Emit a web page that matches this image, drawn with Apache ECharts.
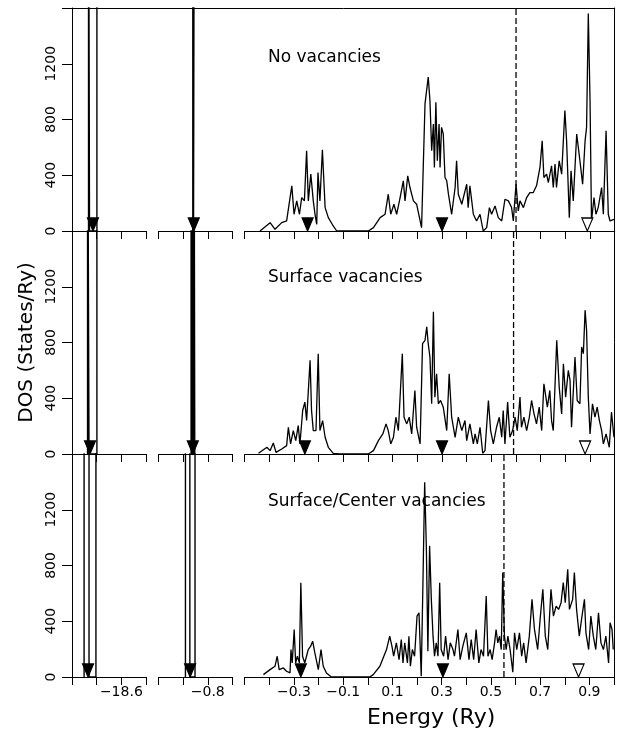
<!DOCTYPE html>
<html lang="en">
<head>
    <meta charset="UTF-8">
    <title>DOS</title>
    <script src="https://cdn.jsdelivr.net/npm/echarts@6/dist/echarts.min.js"></script>
    <style>
        html, body { margin: 0; padding: 0; background: #fff; }
        #main { width: 617px; height: 734px; }
    </style>
</head>
<body>
<div id="main"></div>
<script type="text/javascript">
    // energy (Ry), DOS (States/Ry)
    var dosNoVac = [
        [-0.438, 0], [-0.397, 60], [-0.377, 12], [-0.35, 60], [-0.33, 72], [-0.309, 324], [-0.3, 120],
        [-0.289, 216], [-0.278, 120], [-0.269, 240], [-0.258, 216], [-0.249, 576], [-0.242, 216],
        [-0.232, 408], [-0.222, 216], [-0.215, 120], [-0.208, 48], [-0.203, 420], [-0.195, 216],
        [-0.185, 583], [-0.174, 168], [-0.161, 96], [-0.141, 36], [-0.127, 0], [0.001, 0], [0.022, 24],
        [0.049, 96], [0.069, 120], [0.082, 264], [0.092, 120], [0.105, 192], [0.116, 120], [0.13, 240],
        [0.143, 360], [0.15, 216], [0.161, 396], [0.17, 312], [0.184, 216], [0.197, 192], [0.217, 24],
        [0.231, 912], [0.244, 1104], [0.251, 936], [0.258, 576], [0.265, 768], [0.269, 456], [0.275, 924],
        [0.281, 504], [0.288, 768], [0.292, 456], [0.298, 744], [0.305, 696], [0.312, 384], [0.319, 360],
        [0.326, 264], [0.339, 120], [0.353, 312], [0.359, 504], [0.366, 264], [0.38, 192], [0.4, 336],
        [0.406, 168], [0.413, 324], [0.427, 120], [0.44, 72], [0.454, 120], [0.467, 0], [0.481, 24],
        [0.492, 168], [0.501, 120], [0.515, 180], [0.528, 96], [0.542, 72], [0.555, 228], [0.569, 216],
        [0.582, 168], [0.589, 72], [0.6, 336], [0.609, 144], [0.616, 216], [0.63, 168], [0.643, 240],
        [0.656, 276], [0.67, 276], [0.683, 324], [0.697, 456], [0.706, 648], [0.713, 384], [0.724, 408],
        [0.731, 348], [0.744, 468], [0.751, 312], [0.758, 480], [0.764, 312], [0.775, 504], [0.785, 408],
        [0.798, 864], [0.805, 648], [0.816, 96], [0.823, 432], [0.832, 216], [0.846, 696], [0.852, 696],
        [0.859, 504], [0.87, 336], [0.88, 648], [0.886, 744], [0.893, 1560], [0.9, 936], [0.906, 72],
        [0.916, 240], [0.924, 120], [0.933, 168], [0.947, 312], [0.954, 120], [0.965, 720], [0.974, 120],
        [0.981, 72], [0.997, 84]
    ];
    var dosSurfVac = [
        [-0.444, 5], [-0.41, 48], [-0.397, 24], [-0.384, 79], [-0.373, 12], [-0.35, 36], [-0.33, 60],
        [-0.323, 192], [-0.314, 72], [-0.303, 168], [-0.293, 96], [-0.283, 204], [-0.276, 72],
        [-0.265, 312], [-0.256, 372], [-0.249, 240], [-0.235, 672], [-0.229, 312], [-0.222, 168],
        [-0.211, 168], [-0.202, 720], [-0.195, 168], [-0.184, 240], [-0.174, 120], [-0.161, 48],
        [-0.141, 5], [-0.114, 0], [0.001, 0], [0.022, 24], [0.042, 96], [0.06, 144], [0.073, 216],
        [0.082, 168], [0.092, 72], [0.103, 120], [0.113, 264], [0.123, 168], [0.139, 720], [0.146, 264],
        [0.157, 216], [0.167, 264], [0.177, 144], [0.19, 456], [0.197, 192], [0.211, 72], [0.221, 792],
        [0.231, 816], [0.238, 912], [0.244, 792], [0.251, 696], [0.258, 360], [0.265, 1020], [0.271, 408],
        [0.278, 576], [0.285, 360], [0.294, 384], [0.305, 336], [0.319, 168], [0.329, 576], [0.339, 264],
        [0.353, 120], [0.366, 264], [0.38, 168], [0.393, 240], [0.4, 96], [0.413, 216], [0.427, 72],
        [0.434, 144], [0.443, 72], [0.454, 192], [0.465, 5], [0.474, 24], [0.488, 384], [0.497, 168],
        [0.508, 72], [0.521, 192], [0.532, 264], [0.542, 120], [0.548, 312], [0.555, 72], [0.566, 372],
        [0.575, 120], [0.586, 168], [0.596, 264], [0.605, 168], [0.616, 408], [0.622, 192], [0.632, 264],
        [0.643, 168], [0.654, 264], [0.663, 384], [0.673, 288], [0.683, 216], [0.694, 336], [0.704, 168],
        [0.713, 504], [0.721, 408], [0.727, 336], [0.737, 456], [0.744, 240], [0.751, 168], [0.765, 816],
        [0.775, 480], [0.785, 288], [0.792, 648], [0.801, 408], [0.812, 600], [0.819, 528], [0.825, 192],
        [0.839, 696], [0.848, 384], [0.859, 360], [0.866, 768], [0.873, 720], [0.88, 1032], [0.886, 888],
        [0.893, 408], [0.9, 144], [0.91, 360], [0.92, 264], [0.929, 336], [0.938, 240], [0.947, 168],
        [0.954, 72], [0.965, 144], [0.978, 48], [0.987, 300], [0.997, 120]
    ];
    var dosSurfCenVac = [
        [-0.424, 17], [-0.397, 53], [-0.377, 77], [-0.368, 149], [-0.36, 53], [-0.343, 65], [-0.33, 41],
        [-0.316, 29], [-0.312, 197], [-0.307, 101], [-0.299, 341], [-0.293, 101], [-0.286, 149],
        [-0.278, 101], [-0.272, 677], [-0.265, 149], [-0.256, 101], [-0.249, 149], [-0.242, 197],
        [-0.232, 221], [-0.224, 257], [-0.215, 173], [-0.201, 53], [-0.19, 197], [-0.181, 77],
        [-0.168, 29], [-0.148, 0], [0.008, 0], [0.022, 17], [0.049, 77], [0.076, 197], [0.089, 293],
        [0.098, 221], [0.105, 149], [0.116, 245], [0.127, 125], [0.136, 269], [0.143, 101], [0.15, 245],
        [0.161, 101], [0.167, 293], [0.173, 77], [0.181, 197], [0.19, 149], [0.2, 437], [0.208, 461],
        [0.217, 5], [0.224, 677], [0.231, 1397], [0.238, 917], [0.244, 185], [0.251, 941], [0.258, 557],
        [0.265, 293], [0.271, 149], [0.278, 245], [0.285, 149], [0.292, 677], [0.298, 197], [0.308, 149],
        [0.316, 293], [0.326, 125], [0.335, 245], [0.346, 197], [0.352, 149], [0.366, 341], [0.375, 125],
        [0.386, 221], [0.4, 317], [0.411, 125], [0.42, 269], [0.43, 125], [0.44, 341], [0.451, 101],
        [0.46, 197], [0.47, 149], [0.481, 581], [0.488, 149], [0.497, 197], [0.505, 125], [0.515, 245],
        [0.521, 341], [0.528, 245], [0.535, 293], [0.542, 197], [0.548, 749], [0.555, 293], [0.562, 197],
        [0.569, 293], [0.578, 197], [0.589, 34], [0.596, 317], [0.605, 197], [0.616, 317], [0.625, 149],
        [0.633, 245], [0.643, 101], [0.656, 293], [0.667, 557], [0.677, 341], [0.69, 197], [0.701, 437],
        [0.711, 629], [0.721, 293], [0.731, 197], [0.744, 629], [0.754, 437], [0.765, 509], [0.775, 485],
        [0.785, 533], [0.794, 677], [0.802, 533], [0.812, 773], [0.819, 485], [0.832, 557], [0.839, 749],
        [0.848, 485], [0.859, 293], [0.87, 437], [0.88, 557], [0.886, 317], [0.897, 197], [0.906, 437],
        [0.916, 293], [0.926, 197], [0.937, 461], [0.947, 245], [0.957, 197], [0.967, 293], [0.978, 101],
        [0.984, 389], [0.992, 341], [0.997, 197]
    ];
    var valenceDos = [dosNoVac, dosSurfVac, dosSurfCenVac];

    // off-scale core peaks: energies of the vertical edges
    var deepCoreEdges = [[-18.733, -18.729, -18.699], [-18.737, -18.731, -18.699], [-18.751, -18.731, -18.703]];
    var shallowCoreEdges = [[-0.861, -0.858, -0.855], [-0.868, -0.865, -0.862, -0.859, -0.856, -0.853], [-0.891, -0.873, -0.852]];

    // level markers (filled = occupied, open = empty)
    var deepArrow = [-18.715, -18.727, -18.735];
    var shallowArrow = [-0.857, -0.861, -0.872];
    var valenceArrows = [[-0.245, 0.30], [-0.256, 0.30], [-0.272, 0.305]];
    var openArrows = [0.889, 0.88, 0.856];
    var fermiLevel = [0.60, 0.59, 0.553];

    var panelNames = ['No vacancies', 'Surface vacancies', 'Surface/Center vacancies'];
    var segRanges = [[-18.8, -18.5], [-1.0, -0.7], [-0.5, 1.0]];
    var segTickLabels = [[-18.6], [-0.8], [-0.3, -0.1, 0.1, 0.3, 0.5, 0.7, 0.9]];
    var yTicks = [0, 400, 800, 1200];
    var yMax = 1600;

    // layout
    var segLeft = [72, 158.7, 244.7];
    var segWidth = [74, 73.6, 370];
    var panelTop = [8, 231, 454];
    var panelHeight = 223;
    var font = 'DejaVu Sans';
    var ink = '#000';

    var chart = echarts.init(document.getElementById('main'));

    function fmt(v) {
        return v.toFixed(1).replace('-', '\u2212');
    }

    // polyline going up and down through each edge, clipped at the panel top
    function spike(edges) {
        var pts = [];
        for (var i = 0; i < edges.length; i++) {
            if (i % 2 === 0) {
                pts.push([edges[i], 0], [edges[i], 3000]);
            } else {
                pts.push([edges[i], 3000], [edges[i], 0]);
            }
        }
        return pts;
    }

    var grid = [], xAxis = [], yAxis = [], series = [], title = [];
    var downTri = 'path://M0,0 L10,0 L5,13 Z';

    for (var p = 0; p < 3; p++) {
        for (var s = 0; s < 3; s++) {
            var idx = p * 3 + s;
            grid.push({left: segLeft[s], top: panelTop[p], width: segWidth[s], height: panelHeight});
            (function (labels, showLabel) {
                xAxis.push({
                    type: 'value', gridIndex: idx,
                    min: segRanges[s][0], max: segRanges[s][1], interval: 0.1,
                    axisLine: {onZero: false, lineStyle: {color: ink, width: 1}},
                    axisTick: {inside: false, length: 8, lineStyle: {color: ink}},
                    splitLine: {show: false},
                    axisLabel: {
                        show: showLabel, color: ink, fontFamily: font, fontSize: 14, margin: 8,
                        formatter: function (v) {
                            for (var k = 0; k < labels.length; k++) {
                                if (Math.abs(v - labels[k]) < 1e-6) return fmt(v);
                            }
                            return '';
                        }
                    }
                });
            })(segTickLabels[s], p === 2);
            var ya = {
                type: 'value', gridIndex: idx, min: 0, max: yMax, interval: 400,
                splitLine: {show: false}
            };
            if (s === 0) {
                ya.axisLine = {show: true, lineStyle: {color: ink, width: 1}};
                ya.axisTick = {show: true, inside: false, length: 10, lineStyle: {color: ink}};
                ya.axisLabel = {
                    color: ink, fontFamily: font, fontSize: 14, rotate: 90, margin: 14,
                    formatter: function (v) { return yTicks.indexOf(v) >= 0 ? String(v) : ''; }
                };
                if (p === 1) {
                    ya.name = 'DOS (States/Ry)';
                    ya.nameLocation = 'middle';
                    ya.nameRotate = 90;
                    ya.nameGap = 35;
                    ya.nameTextStyle = {color: ink, fontFamily: font, fontSize: 20};
                }
            } else {
                ya.show = false;
            }
            yAxis.push(ya);
        }

        var base = p * 3;
        series.push({
            type: 'line', xAxisIndex: base, yAxisIndex: base, data: spike(deepCoreEdges[p]),
            symbol: 'none', lineStyle: {color: ink, width: 1.4}, clip: true, animation: false
        });
        series.push({
            type: 'line', xAxisIndex: base + 1, yAxisIndex: base + 1, data: spike(shallowCoreEdges[p]),
            symbol: 'none', lineStyle: {color: ink, width: 1.4}, clip: true, animation: false
        });
        series.push({
            type: 'line', xAxisIndex: base + 2, yAxisIndex: base + 2, data: valenceDos[p],
            symbol: 'none', lineStyle: {color: ink, width: 1.3}, clip: true, animation: false
        });
        // Fermi level
        series.push({
            type: 'line', xAxisIndex: base + 2, yAxisIndex: base + 2,
            data: [[fermiLevel[p], 0], [fermiLevel[p], yMax]],
            symbol: 'none', lineStyle: {color: ink, width: 1.3, type: [6, 3]}, animation: false
        });
        // arrows
        var arrowSets = [
            [base, [deepArrow[p]], ink],
            [base + 1, [shallowArrow[p]], ink],
            [base + 2, valenceArrows[p], ink],
            [base + 2, [openArrows[p]], '#fff']
        ];
        arrowSets.forEach(function (a) {
            series.push({
                type: 'scatter', xAxisIndex: a[0], yAxisIndex: a[0],
                data: a[1].map(function (e) { return [e, 0]; }),
                symbol: downTri, symbolSize: [11, 13], symbolOffset: [0, -6.5],
                itemStyle: {color: a[2], borderColor: ink, borderWidth: 1.2, opacity: 1},
                z: 5, animation: false, clip: false
            });
        });

        title.push({
            text: panelNames[p], left: 268, top: panelTop[p] + [41, 38, 39][p], padding: 0,
            textStyle: {color: ink, fontFamily: font, fontSize: 17, fontWeight: 'normal'}
        });
    }

    // outer frame: top edge and right edge
    grid.push({left: 72, top: 8, width: 542.7, height: 669});
    xAxis.push({
        type: 'value', gridIndex: 9, min: 0, max: 1, position: 'top',
        axisLine: {onZero: false, lineStyle: {color: ink}}, axisTick: {show: false},
        axisLabel: {show: false}, splitLine: {show: false}
    });
    yAxis.push({
        type: 'value', gridIndex: 9, min: 0, max: 1, position: 'right',
        axisLine: {show: true, onZero: false, lineStyle: {color: ink}}, axisTick: {show: false},
        axisLabel: {show: false}, splitLine: {show: false}
    });

    title.push({
        text: 'Energy (Ry)', left: 367, top: 707, padding: 0,
        textStyle: {color: ink, fontFamily: font, fontSize: 22, fontWeight: 'normal'}
    });

    var option = {
        backgroundColor: '#fff',
        animation: false,
        title: title,
        grid: grid,
        xAxis: xAxis,
        yAxis: yAxis,
        series: series
    };
    chart.setOption(option);
</script>
</body>
</html>
